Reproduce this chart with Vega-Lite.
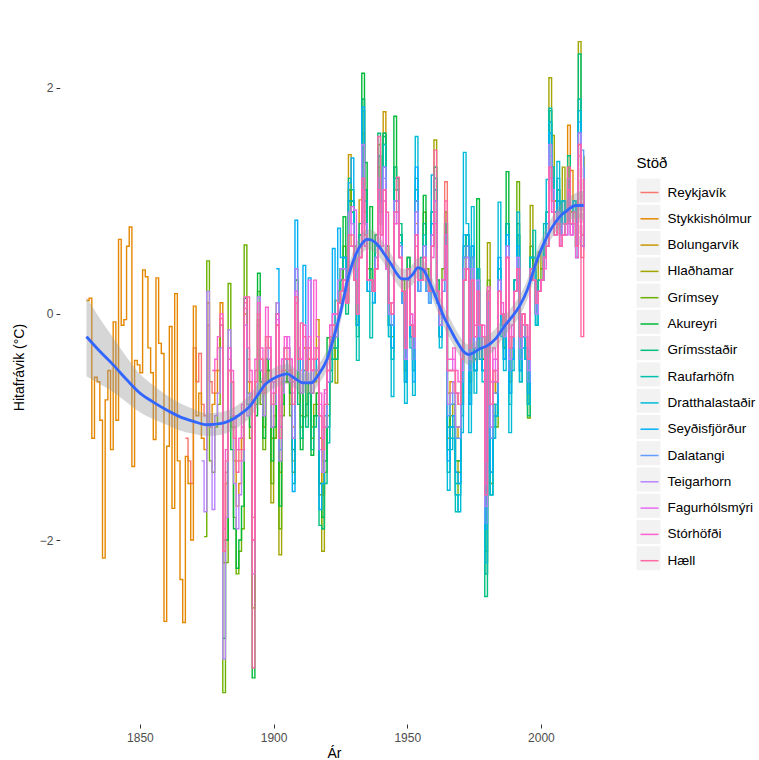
{
"$schema":"https://vega.github.io/schema/vega-lite/v6.json",
"width":548,"height":714,
"autosize":{"type":"none"},
"padding":{"left":60,"top":10,"right":151,"bottom":36},
"config":{"view":{"fill":"#EBEBEB","stroke":null},"font":"Liberation Sans",
 "axis":{"grid":false,"domain":false,"tickColor":"#333333","tickSize":4,"tickWidth":1,"labelFontSize":12,"labelColor":"#4D4D4D","titleFontSize":14,"titleFontWeight":"normal","titleColor":"#000000"},
 "axisX":{"labelPadding":4,"titlePadding":3},
 "axisY":{"labelPadding":3,"titlePadding":13}},
"datasets":{
"names":[{"k":"a","Stöð":"Reykjavík"},{"k":"b","Stöð":"Stykkishólmur"},{"k":"c","Stöð":"Bolungarvík"},{"k":"d","Stöð":"Hlaðhamar"},{"k":"e","Stöð":"Grímsey"},{"k":"f","Stöð":"Akureyri"},{"k":"g","Stöð":"Grímsstaðir"},{"k":"h","Stöð":"Raufarhöfn"},{"k":"i","Stöð":"Dratthalastaðir"},{"k":"j","Stöð":"Seyðisfjörður"},{"k":"k","Stöð":"Dalatangi"},{"k":"l","Stöð":"Teigarhorn"},{"k":"m","Stöð":"Fagurhólsmýri"},{"k":"n","Stöð":"Stórhöfði"},{"k":"o","Stöð":"Hæll"}],
"fit":[
{"t":1830,"f":-0.2,"lo":-0.55,"hi":0.15},{"t":1835,"f":-0.33,"lo":-0.62,"hi":-0.04},{"t":1840,"f":-0.45,"lo":-0.69,"hi":-0.21},{"t":1845,"f":-0.58,"lo":-0.78,"hi":-0.38},{"t":1850,"f":-0.7,"lo":-0.87,"hi":-0.53},{"t":1855,"f":-0.78,"lo":-0.93,"hi":-0.63},{"t":1860,"f":-0.85,"lo":-0.98,"hi":-0.72},{"t":1865,"f":-0.91,"lo":-1.03,"hi":-0.79},{"t":1870,"f":-0.95,"lo":-1.06,"hi":-0.84},{"t":1875,"f":-0.98,"lo":-1.08,"hi":-0.88},{"t":1880,"f":-0.97,"lo":-1.07,"hi":-0.87},{"t":1884,"f":-0.94,"lo":-1.04,"hi":-0.84},{"t":1888,"f":-0.88,"lo":-0.98,"hi":-0.78},{"t":1891,"f":-0.82,"lo":-0.92,"hi":-0.72},{"t":1894,"f":-0.72,"lo":-0.82,"hi":-0.62},{"t":1897,"f":-0.62,"lo":-0.72,"hi":-0.52},{"t":1900,"f":-0.57,"lo":-0.66,"hi":-0.48},{"t":1903,"f":-0.54,"lo":-0.63,"hi":-0.45},{"t":1905,"f":-0.53,"lo":-0.62,"hi":-0.44},{"t":1908,"f":-0.57,"lo":-0.66,"hi":-0.48},{"t":1911,"f":-0.61,"lo":-0.7,"hi":-0.52},{"t":1914,"f":-0.61,"lo":-0.7,"hi":-0.52},{"t":1917,"f":-0.53,"lo":-0.62,"hi":-0.44},{"t":1920,"f":-0.4,"lo":-0.49,"hi":-0.31},{"t":1922,"f":-0.25,"lo":-0.34,"hi":-0.16},{"t":1925,"f":0.01,"lo":-0.08,"hi":0.1},{"t":1928,"f":0.33,"lo":0.24,"hi":0.42},{"t":1931,"f":0.54,"lo":0.45,"hi":0.63},{"t":1933,"f":0.62,"lo":0.53,"hi":0.71},{"t":1935,"f":0.66,"lo":0.57,"hi":0.75},{"t":1937,"f":0.65,"lo":0.56,"hi":0.74},{"t":1939,"f":0.61,"lo":0.52,"hi":0.7},{"t":1942,"f":0.51,"lo":0.42,"hi":0.6},{"t":1944,"f":0.44,"lo":0.35,"hi":0.53},{"t":1946,"f":0.36,"lo":0.27,"hi":0.45},{"t":1948,"f":0.31,"lo":0.22,"hi":0.4},{"t":1950,"f":0.31,"lo":0.22,"hi":0.4},{"t":1952,"f":0.35,"lo":0.26,"hi":0.44},{"t":1954,"f":0.41,"lo":0.32,"hi":0.5},{"t":1956,"f":0.39,"lo":0.3,"hi":0.48},{"t":1958,"f":0.3,"lo":0.21,"hi":0.39},{"t":1961,"f":0.13,"lo":0.04,"hi":0.22},{"t":1964,"f":-0.04,"lo":-0.13,"hi":0.05},{"t":1966,"f":-0.13,"lo":-0.22,"hi":-0.04},{"t":1969,"f":-0.26,"lo":-0.35,"hi":-0.17},{"t":1971,"f":-0.33,"lo":-0.42,"hi":-0.24},{"t":1973,"f":-0.36,"lo":-0.45,"hi":-0.27},{"t":1975,"f":-0.34,"lo":-0.43,"hi":-0.25},{"t":1977,"f":-0.31,"lo":-0.4,"hi":-0.22},{"t":1980,"f":-0.28,"lo":-0.37,"hi":-0.19},{"t":1983,"f":-0.22,"lo":-0.31,"hi":-0.13},{"t":1986,"f":-0.12,"lo":-0.21,"hi":-0.03},{"t":1989,"f":-0.03,"lo":-0.12,"hi":0.06},{"t":1992,"f":0.07,"lo":-0.02,"hi":0.16},{"t":1995,"f":0.22,"lo":0.13,"hi":0.31},{"t":1998,"f":0.44,"lo":0.35,"hi":0.53},{"t":2001,"f":0.62,"lo":0.53,"hi":0.71},{"t":2004,"f":0.76,"lo":0.67,"hi":0.85},{"t":2007,"f":0.86,"lo":0.76,"hi":0.96},{"t":2010,"f":0.92,"lo":0.82,"hi":1.02},{"t":2013,"f":0.96,"lo":0.85,"hi":1.07},{"t":2016,"f":0.96,"lo":0.83,"hi":1.09}],
"temp":[
{"t":1830,"b":0.12},{"t":1831,"b":0.14},{"t":1832,"b":-1.1},{"t":1833,"b":-0.56},{"t":1834,"b":-0.6},{"t":1835,"b":-0.94},{"t":1836,"b":-2.16},{"t":1837,"b":-0.76},{"t":1838,"b":-0.5},{"t":1839,"b":-1.2},{"t":1840,"b":-0.07},{"t":1841,"b":-0.94},{"t":1842,"b":0.66},{"t":1843,"b":-0.1},{"t":1844,"b":-0.05},{"t":1845,"b":0.6},{"t":1846,"b":0.77},{"t":1847,"b":-1.35},{"t":1848,"b":-0.41},{"t":1849,"b":-0.45},{"t":1850,"b":-0.52},{"t":1851,"b":0.39},{"t":1852,"b":0.33},{"t":1853,"b":-0.3},{"t":1854,"b":-0.52},{"t":1855,"b":-1.11},{"t":1856,"b":0.32},{"t":1857,"b":-0.26},{"t":1858,"b":-0.35},{"t":1859,"b":-2.72},{"t":1860,"b":-1.17},{"t":1861,"b":-0.11},{"t":1862,"b":-1.72},{"t":1863,"b":0.18},{"t":1864,"b":-1.3},{"t":1865,"b":-2.35},{"t":1866,"b":-2.73},
{"t":1867,"a":-1.1,"b":-1.26},{"t":1868,"a":-1.3,"b":-1.5},{"t":1869,"a":-1.5,"b":-2.0},{"t":1870,"a":-0.3,"b":0.07},{"t":1871,"a":-0.6,"b":-0.9},{"t":1872,"a":-0.35,"b":-0.7},
{"t":1873,"a":-0.8,"b":-1.1,"l":-1.3},{"t":1874,"a":-0.9,"b":-1.2,"e":-1.97,"l":-1.75},{"t":1875,"a":-0.1,"b":0.1,"e":0.47,"l":0.2},{"t":1876,"a":-0.6,"b":-1.0,"e":-1.3,"l":-1.0},
{"t":1877,"a":-0.7,"b":-0.8,"e":-1.4,"l":-1.73,"n":-0.5},{"t":1878,"a":-0.5,"b":-0.7,"e":-1.0,"l":-0.9,"n":-0.4},{"t":1879,"a":-0.3,"b":-0.5,"e":-0.8,"l":-0.7,"n":-0.2},
{"t":1880,"a":-0.04,"b":0.1,"e":-0.1,"l":-0.3,"n":0.0,"o":-0.1},
{"t":1881,"a":-2.0,"b":-2.2,"e":-3.35,"f":-2.87,"l":-3.05,"n":-1.9,"o":-2.1},
{"t":1882,"a":-1.4,"b":-1.5,"e":-2.2,"f":-2.0,"l":-1.8,"n":-1.2,"o":-1.3},
{"t":1883,"a":-0.4,"b":-0.5,"e":0.27,"f":-0.3,"l":-0.14,"n":-0.3,"o":-0.5},
{"t":1884,"a":-0.6,"b":-0.9,"e":-1.0,"f":-1.2,"l":-0.9,"n":-0.5,"o":-0.6},
{"t":1885,"a":-1.0,"b":-1.3,"e":-1.8,"f":-1.9,"l":-1.5,"n":-0.9,"o":-1.1},
{"t":1886,"a":-1.3,"b":-1.7,"e":-2.3,"f":-2.25,"l":-1.9,"n":-1.2,"o":-1.4},
{"t":1887,"a":-1.2,"b":-1.5,"e":-2.1,"f":-2.0,"l":-1.6,"n":-1.1,"o":-1.3},
{"t":1888,"a":-1.0,"b":-1.1,"e":-1.9,"f":-1.7,"l":-1.3,"n":-0.8,"o":-1.2},
{"t":1889,"a":0.1,"b":0.0,"e":0.61,"f":0.14,"l":-0.1,"n":0.15,"o":0.05},
{"t":1890,"a":-0.4,"b":-0.6,"e":-0.7,"f":-0.8,"l":-0.9,"n":-0.3,"o":0.15},
{"t":1891,"a":-0.6,"b":-0.8,"e":-1.1,"f":-1.0,"l":-0.7,"n":-0.5,"o":-0.6},
{"t":1892,"a":-1.8,"b":-2.0,"e":-2.6,"f":-3.22,"l":-2.3,"n":-2.0,"o":-3.13},
{"t":1893,"a":-0.5,"b":-0.6,"e":-0.8,"f":-0.9,"l":-0.7,"n":-0.4,"o":-0.6},
{"t":1894,"a":-0.1,"b":-0.05,"e":0.2,"f":0.36,"l":0.15,"n":0.1,"o":0.0},
{"t":1895,"a":-0.4,"b":-0.5,"d":-0.7,"e":-0.8,"f":-0.6,"l":-0.5,"n":-0.3,"o":-0.4},
{"t":1896,"a":-0.7,"b":-0.9,"d":-1.0,"e":-1.2,"f":-1.1,"l":-0.9,"n":-0.6,"o":-0.7},
{"t":1897,"a":-0.2,"b":-0.3,"d":-0.4,"e":-0.5,"f":-0.4,"l":-0.3,"n":0.06,"o":-0.2},
{"t":1898,"a":-0.3,"b":-0.4,"c":-0.5,"d":-0.6,"e":-0.6,"f":-0.5,"l":-0.4,"m":-0.2,"n":-0.2,"o":-0.3},
{"t":1899,"a":-0.8,"b":-1.0,"c":-1.1,"d":-1.67,"e":-1.5,"f":-1.3,"l":-1.0,"m":-0.7,"n":-0.6,"o":-0.8},
{"t":1900,"a":-0.7,"b":-0.8,"c":-0.9,"d":-1.1,"e":-1.1,"f":-1.0,"l":-0.8,"m":-0.6,"n":-0.6,"o":-0.7},
{"t":1901,"a":-0.1,"b":0.0,"c":-0.1,"d":-0.1,"e":0.1,"f":0.0,"j":0.4,"l":0.1,"m":-0.05,"n":0.0,"o":-0.1},
{"t":1902,"a":-1.0,"b":-1.3,"c":-1.4,"d":-2.13,"e":-1.9,"f":-1.7,"j":-1.2,"l":-1.3,"m":-1.0,"n":-0.9,"o":-1.1},
{"t":1903,"a":-0.5,"b":-0.6,"c":-0.6,"d":-0.8,"e":-0.9,"f":-0.8,"j":-0.6,"l":-0.7,"m":-0.4,"n":-0.4,"o":-0.5},
{"t":1904,"a":-0.3,"b":-0.4,"c":-0.4,"d":-0.5,"e":-0.6,"f":-0.4,"j":-0.3,"l":-0.4,"m":-0.3,"n":-0.2,"o":-0.3},
{"t":1905,"a":-0.3,"b":-0.5,"c":-0.4,"d":-0.6,"e":-0.5,"f":-0.6,"j":-0.3,"l":-0.5,"m":-0.2,"n":-0.3,"o":-0.4},
{"t":1906,"a":-0.5,"b":-0.7,"c":-0.6,"d":-0.8,"e":-0.9,"f":-0.7,"j":-0.5,"l":-0.6,"m":-0.4,"n":-0.4,"o":-0.5},
{"t":1907,"a":-0.8,"b":-1.0,"c":-1.1,"d":-1.3,"e":-1.4,"f":-1.2,"g":-1.5,"j":-1.57,"l":-1.1,"m":-0.7,"n":-0.6,"o":-0.8},
{"t":1908,"a":0.1,"b":0.2,"c":0.2,"d":0.3,"e":0.3,"f":0.3,"g":0.4,"j":0.83,"l":0.4,"m":0.2,"n":0.1,"o":0.15},
{"t":1909,"a":-0.4,"b":-0.5,"c":-0.5,"d":-0.6,"e":-0.7,"f":-0.6,"g":-0.8,"j":-0.4,"l":-0.5,"m":-0.3,"n":-0.3,"o":-0.4},
{"t":1910,"a":-0.5,"b":-0.7,"c":-0.7,"d":-0.9,"e":-1.0,"f":-1.2,"g":-1.1,"j":-0.6,"l":-0.7,"m":-0.4,"n":-0.4,"o":-0.08},
{"t":1911,"a":-0.2,"b":-0.3,"c":-0.3,"d":-0.5,"e":-0.6,"f":-0.91,"g":-0.5,"j":0.43,"l":-0.2,"m":-0.1,"n":-0.1,"o":-0.2},
{"t":1912,"a":-0.5,"b":-0.6,"c":-0.6,"d":-0.8,"e":-0.9,"f":-0.8,"g":-1.0,"j":-0.5,"l":-0.6,"m":-0.4,"n":-0.3,"o":-0.5},
{"t":1913,"a":-0.3,"b":-0.4,"c":-0.4,"d":-0.6,"e":-0.7,"f":-0.6,"g":-0.7,"j":0.32,"l":-0.3,"m":0.3,"n":-0.2,"o":-0.3},
{"t":1914,"a":-0.5,"b":-0.7,"c":-0.7,"d":-1.0,"e":-1.1,"f":-1.25,"g":-1.2,"j":-0.6,"l":-0.7,"m":-0.5,"n":-0.4,"o":-0.5},
{"t":1915,"a":-0.4,"b":-0.6,"c":-0.6,"d":-0.8,"e":-0.9,"f":-0.9,"g":-1.0,"j":-0.5,"l":-0.5,"m":-0.3,"n":0.3,"o":-0.4},
{"t":1916,"a":-0.3,"b":-0.5,"c":-0.05,"d":-0.7,"e":-0.8,"f":-0.7,"g":-0.9,"j":-0.4,"l":-0.5,"m":-0.3,"n":-0.2,"o":-0.3},
{"t":1917,"a":-0.9,"b":-1.1,"c":-1.1,"d":-1.5,"e":-1.6,"f":-1.5,"g":-1.87,"j":-1.73,"l":-1.2,"m":-0.8,"n":-0.7,"o":-0.9},
{"t":1918,"a":-1.3,"b":-1.6,"c":-1.6,"d":-2.1,"e":-1.9,"f":-1.8,"g":-1.9,"j":-1.5,"l":-1.4,"m":-1.1,"n":-1.0,"o":-1.2},
{"t":1919,"a":-0.8,"b":-1.0,"c":-1.0,"d":-1.3,"e":-1.4,"f":-1.3,"g":-1.5,"j":-0.9,"l":-1.0,"m":-0.7,"n":-0.67,"o":-0.8},
{"t":1920,"a":-0.5,"b":-0.6,"c":-0.6,"d":-0.8,"e":-0.9,"f":-0.21,"g":-1.0,"h":-1.14,"j":-0.6,"l":-0.6,"m":-0.4,"n":-0.4,"o":-0.5},
{"t":1921,"a":-0.2,"b":-0.3,"c":-0.3,"d":-0.4,"e":-0.5,"f":-0.4,"g":-0.6,"h":-0.5,"j":-0.2,"l":-0.3,"m":-0.1,"n":-0.1,"o":-0.2},
{"t":1922,"a":-0.2,"b":-0.2,"c":-0.2,"d":-0.3,"e":-0.3,"f":-0.2,"g":-0.4,"h":-0.3,"j":0.58,"l":-0.1,"m":0.0,"n":0.0,"o":-0.1},
{"t":1923,"a":-0.1,"b":-0.2,"c":0.12,"d":-0.61,"e":-0.4,"f":-0.3,"g":-0.4,"h":-0.3,"j":-0.1,"l":-0.2,"m":0.0,"n":0.0,"o":-0.1},
{"t":1924,"a":0.1,"b":0.1,"c":0.1,"d":0.1,"e":0.2,"f":0.1,"g":0.1,"h":0.2,"j":0.76,"l":0.3,"m":0.1,"n":0.1,"o":0.1},
{"t":1925,"a":0.2,"b":0.3,"c":0.3,"d":0.4,"e":0.4,"f":0.3,"g":0.4,"h":0.4,"j":0.5,"l":0.4,"m":0.2,"n":0.2,"o":0.2},
{"t":1926,"a":0.3,"b":0.4,"c":0.4,"d":0.5,"e":0.6,"f":0.86,"g":0.5,"h":0.5,"j":0.5,"l":0.4,"m":0.3,"n":0.3,"o":0.3},
{"t":1927,"a":0.1,"b":0.1,"c":0.1,"d":0.1,"e":0.2,"f":0.1,"g":0.0,"h":0.2,"j":0.2,"l":0.1,"m":0.1,"n":0.1,"o":0.1},
{"t":1928,"a":0.7,"b":0.9,"c":1.41,"d":1.1,"e":1.1,"f":1.0,"g":1.2,"h":1.0,"j":1.16,"l":0.9,"m":0.7,"n":0.6,"o":0.7},
{"t":1929,"a":0.6,"b":0.8,"c":0.9,"d":1.0,"e":1.0,"f":0.9,"g":1.1,"h":1.0,"j":1.38,"l":0.8,"m":0.95,"n":0.6,"o":0.7},
{"t":1930,"a":0.3,"b":0.4,"c":0.4,"d":0.5,"e":0.6,"f":0.5,"g":0.5,"h":0.5,"j":0.4,"l":0.4,"m":0.92,"n":0.3,"o":0.3},
{"t":1931,"a":0.0,"b":0.0,"c":0.0,"d":-0.1,"e":-0.1,"f":-0.1,"g":-0.2,"h":-0.41,"j":-0.1,"l":0.0,"m":0.1,"n":0.1,"o":0.0},
{"t":1932,"a":0.5,"b":0.6,"c":1.01,"d":0.7,"e":0.7,"f":0.7,"g":0.8,"h":0.7,"j":0.6,"l":0.6,"m":0.5,"n":0.5,"o":0.5},
{"t":1933,"a":1.2,"b":1.5,"c":1.6,"d":1.8,"e":1.9,"f":2.13,"g":1.9,"h":1.8,"j":1.83,"l":1.5,"m":1.2,"n":1.1,"o":1.2},
{"t":1934,"a":0.7,"b":0.8,"c":0.9,"d":1.0,"e":1.1,"f":1.34,"g":1.1,"h":1.0,"j":0.8,"l":0.8,"m":0.6,"n":0.6,"o":0.7},
{"t":1935,"a":0.3,"b":0.3,"c":0.3,"d":0.3,"e":0.4,"f":0.3,"g":0.3,"h":0.2,"j":0.2,"l":0.3,"m":0.3,"n":0.3,"o":0.3},
{"t":1936,"a":0.3,"b":0.3,"c":0.4,"d":0.3,"e":0.4,"f":0.95,"g":0.4,"h":-0.21,"j":0.3,"l":0.3,"m":0.3,"n":0.3,"o":0.3},
{"t":1937,"a":0.2,"b":0.2,"c":0.2,"d":0.2,"e":0.3,"f":0.2,"g":0.2,"h":0.1,"j":0.1,"l":0.2,"m":0.2,"n":0.2,"o":0.2},
{"t":1938,"a":0.4,"b":0.5,"c":0.6,"d":0.6,"e":0.7,"f":0.6,"g":0.7,"h":0.6,"j":0.5,"l":0.5,"m":0.4,"n":0.4,"o":0.4},
{"t":1939,"a":1.0,"b":1.2,"c":1.3,"d":1.4,"e":1.5,"f":1.4,"g":1.6,"h":1.4,"j":1.2,"k":1.1,"l":1.2,"m":1.0,"n":1.1,"o":1.57},
{"t":1940,"a":0.7,"b":0.8,"c":0.9,"d":1.0,"e":1.0,"f":0.9,"g":1.0,"h":0.9,"i":0.8,"j":0.8,"k":0.7,"l":0.8,"m":0.7,"n":0.6,"o":0.7},
{"t":1941,"a":1.1,"b":1.3,"c":1.79,"d":1.5,"e":1.6,"f":1.57,"g":1.6,"h":1.5,"i":1.3,"j":1.3,"k":1.2,"l":1.3,"m":1.1,"n":1.0,"o":1.1},
{"t":1942,"a":0.5,"b":0.5,"c":0.5,"d":0.6,"e":0.6,"f":0.5,"g":0.6,"h":0.5,"i":0.4,"j":0.4,"k":0.4,"l":0.5,"m":0.4,"n":0.4,"o":0.9},
{"t":1943,"a":0.1,"b":0.0,"c":0.0,"d":-0.1,"e":-0.1,"f":-0.1,"g":-0.2,"h":-0.1,"i":-0.2,"j":-0.1,"k":0.0,"l":0.0,"m":0.1,"n":0.1,"o":0.1},
{"t":1944,"a":0.0,"b":0.0,"c":0.0,"d":-0.1,"e":-0.2,"f":-0.1,"g":-0.3,"h":-0.4,"i":-0.73,"j":-0.3,"k":-0.1,"l":0.0,"m":0.1,"n":0.1,"o":0.0},
{"t":1945,"a":0.8,"b":1.0,"c":1.1,"d":1.2,"e":1.3,"f":1.75,"g":1.3,"h":1.2,"i":1.0,"j":1.0,"k":0.9,"l":1.0,"m":0.8,"n":0.8,"o":0.9},
{"t":1946,"a":0.9,"b":1.0,"c":1.1,"d":1.2,"e":1.2,"f":1.1,"g":1.2,"h":1.1,"i":1.0,"j":1.0,"k":0.9,"l":1.0,"m":0.9,"n":0.8,"o":1.21},
{"t":1947,"a":0.5,"b":0.6,"c":0.6,"d":0.7,"e":0.7,"f":0.7,"g":0.8,"h":0.7,"i":0.63,"j":0.6,"k":0.5,"l":0.6,"m":0.5,"n":0.5,"o":0.5},
{"t":1948,"a":0.2,"b":0.2,"c":0.2,"d":0.2,"e":0.3,"f":0.2,"g":0.2,"h":0.1,"i":0.1,"j":0.1,"k":0.1,"l":0.2,"m":0.2,"n":0.2,"o":0.2},
{"t":1949,"a":-0.3,"b":-0.4,"c":-0.4,"d":-0.5,"e":-0.6,"f":-0.5,"g":-0.6,"h":-0.6,"i":-0.79,"j":-0.6,"k":-0.4,"l":-0.4,"m":-0.3,"n":-0.2,"o":-0.3},
{"t":1950,"a":0.4,"b":0.4,"c":0.4,"d":0.5,"e":0.5,"f":0.4,"g":0.5,"h":0.4,"i":0.3,"j":0.3,"k":0.3,"l":0.4,"m":0.4,"n":0.4,"o":0.4},
{"t":1951,"a":-0.1,"b":-0.1,"c":-0.1,"d":-0.2,"e":-0.2,"f":-0.1,"g":-0.2,"h":-0.2,"i":-0.3,"j":-0.2,"k":-0.1,"l":-0.1,"m":0.0,"n":0.0,"o":-0.1},
{"t":1952,"a":-0.2,"b":-0.3,"c":-0.3,"d":-0.4,"e":-0.4,"f":-0.3,"g":-0.5,"h":-0.5,"i":-0.72,"j":-0.6,"k":-0.4,"l":-0.3,"m":-0.2,"n":-0.1,"o":-0.2},
{"t":1953,"a":0.7,"b":0.8,"c":0.9,"d":1.0,"e":1.0,"f":1.0,"g":1.1,"h":1.2,"i":1.57,"j":1.3,"k":1.0,"l":0.9,"m":0.7,"n":0.6,"o":0.7},
{"t":1954,"a":0.3,"b":0.3,"c":0.3,"d":0.4,"e":0.4,"f":0.3,"g":0.4,"h":0.3,"i":0.2,"j":0.2,"k":0.2,"l":0.3,"m":0.3,"n":0.3,"o":0.3},
{"t":1955,"a":0.4,"b":0.3,"c":0.3,"d":0.4,"e":0.4,"f":0.4,"g":0.5,"h":0.4,"i":0.4,"j":0.4,"k":0.3,"l":0.3,"m":0.3,"n":0.3,"o":0.3},
{"t":1956,"a":0.5,"b":0.6,"c":0.6,"d":0.8,"e":0.9,"f":1.05,"g":0.8,"h":0.7,"i":0.6,"j":0.6,"k":0.5,"l":0.6,"m":0.5,"n":0.4,"o":0.5},
{"t":1957,"a":0.3,"b":0.3,"c":0.3,"d":0.4,"e":0.4,"f":0.3,"g":0.3,"h":0.3,"i":0.2,"j":0.2,"k":0.2,"l":0.3,"m":0.3,"n":0.3,"o":0.3},
{"t":1958,"a":0.2,"b":0.2,"c":0.2,"d":0.2,"e":0.3,"f":0.2,"g":0.2,"h":0.2,"i":0.1,"j":0.1,"k":0.1,"l":0.2,"m":0.2,"n":0.2,"o":0.2},
{"t":1959,"a":0.6,"b":0.7,"c":0.8,"d":0.9,"e":0.9,"f":0.8,"g":0.9,"h":0.9,"i":1.23,"j":0.8,"k":0.7,"l":0.7,"m":0.6,"n":0.5,"o":0.6},
{"t":1960,"a":0.9,"b":1.0,"c":1.1,"d":1.54,"e":1.3,"f":1.2,"g":1.3,"h":1.2,"i":1.1,"j":1.0,"k":1.0,"l":1.0,"m":0.9,"n":0.8,"o":1.45},
{"t":1961,"a":0.2,"b":0.2,"c":0.2,"d":0.3,"e":0.3,"f":0.2,"g":0.3,"h":0.2,"i":0.1,"j":0.1,"k":0.1,"l":0.2,"m":0.2,"n":0.2,"o":0.2},
{"t":1962,"a":0.0,"b":-0.1,"c":-0.1,"d":-0.2,"e":-0.2,"f":-0.1,"g":-0.2,"h":-0.2,"i":-0.3,"j":-0.2,"k":-0.1,"l":-0.1,"m":0.0,"n":0.0,"o":0.0},
{"t":1963,"a":0.3,"b":0.3,"c":0.3,"d":0.3,"e":0.4,"f":0.3,"g":0.3,"h":0.3,"i":0.2,"j":0.3,"k":0.2,"l":0.3,"m":0.3,"n":0.3,"o":0.3},
{"t":1964,"a":1.17,"b":0.8,"c":0.8,"d":0.9,"e":0.9,"f":0.8,"g":0.8,"h":0.8,"i":0.7,"j":0.7,"k":0.6,"l":0.7,"m":0.6,"n":0.6,"o":1.0},
{"t":1965,"a":-0.5,"b":-0.7,"c":-0.8,"d":-1.1,"e":-1.2,"f":-1.0,"g":-1.2,"h":-1.4,"i":-1.56,"j":-1.3,"k":-0.9,"l":-0.8,"m":-0.5,"n":-0.4,"o":-0.5},
{"t":1966,"a":-0.5,"b":-0.6,"c":-0.7,"d":-0.9,"e":-1.0,"f":-0.8,"g":-1.0,"h":-1.1,"i":-1.2,"j":-1.0,"k":-0.8,"l":-0.7,"m":-0.5,"n":-0.4,"o":-0.5},
{"t":1967,"a":-0.5,"b":-0.6,"c":-0.6,"d":-0.8,"e":-0.9,"f":-0.8,"g":-1.0,"h":-1.0,"i":-1.1,"j":-0.9,"k":-0.7,"l":-0.6,"m":-0.4,"n":-0.3,"o":-0.5},
{"t":1968,"a":-0.7,"b":-1.0,"c":-1.1,"d":-1.4,"e":-1.6,"f":-1.3,"g":-1.5,"h":-1.75,"i":-1.6,"j":-1.4,"k":-1.1,"l":-1.0,"m":-0.7,"n":-0.5,"o":-0.7},
{"t":1969,"a":-0.8,"b":-1.0,"c":-1.0,"d":-1.3,"e":-1.4,"f":-1.3,"g":-1.5,"h":-1.6,"i":-1.75,"j":-1.5,"k":-1.1,"l":-1.0,"m":-0.7,"n":-0.6,"o":-0.8},
{"t":1970,"a":-0.4,"b":-0.5,"c":-0.5,"d":-0.7,"e":-0.8,"f":-0.6,"g":-0.8,"h":-0.9,"i":-1.05,"j":-0.8,"k":-0.6,"l":-0.5,"m":-0.4,"n":-0.3,"o":-0.4},
{"t":1971,"a":0.3,"b":0.4,"c":0.4,"d":0.5,"e":0.5,"f":0.5,"g":0.6,"h":0.6,"i":1.43,"j":0.7,"k":0.5,"l":0.4,"m":0.3,"n":0.3,"o":0.3},
{"t":1972,"a":0.4,"b":0.5,"c":0.5,"d":0.6,"e":0.7,"f":0.6,"g":0.7,"h":0.7,"i":0.8,"j":0.7,"k":0.6,"l":0.5,"m":0.4,"n":0.4,"o":0.4},
{"t":1973,"a":-0.3,"b":-0.4,"c":-0.4,"d":-0.6,"e":-0.7,"f":-0.6,"g":-0.8,"h":-0.8,"i":-1.05,"j":-0.8,"k":-0.5,"l":-0.4,"m":-0.3,"n":-0.2,"o":-0.3},
{"t":1974,"a":0.3,"b":0.4,"c":0.4,"d":0.5,"e":0.5,"f":0.5,"g":0.6,"h":0.6,"i":0.95,"j":0.6,"k":0.5,"l":0.4,"m":0.3,"n":0.3,"o":0.3},
{"t":1975,"a":-0.2,"b":-0.3,"c":-0.3,"d":-0.4,"e":-0.5,"f":-0.4,"g":-0.5,"h":-0.5,"i":-0.7,"j":-0.5,"k":-0.3,"l":-0.3,"m":-0.2,"n":-0.1,"o":-0.2},
{"t":1976,"a":0.2,"b":0.3,"c":0.3,"d":0.4,"e":0.4,"f":1.02,"g":0.4,"h":0.4,"i":0.4,"j":0.3,"k":0.3,"l":0.3,"m":0.2,"n":0.2,"o":0.2},
{"t":1977,"a":-0.1,"b":-0.2,"c":-0.2,"d":-0.3,"e":-0.3,"f":-0.2,"g":-0.3,"h":-0.3,"i":-0.4,"j":-0.3,"k":-0.2,"l":-0.2,"m":-0.1,"n":-0.1,"o":-0.1},
{"t":1978,"a":-0.2,"b":-0.3,"c":-0.3,"d":-0.4,"e":-0.4,"f":-0.4,"g":-0.5,"h":-0.5,"i":-0.6,"j":-0.5,"k":-0.3,"l":-0.3,"m":-0.2,"n":-0.1,"o":-0.2},
{"t":1979,"a":-1.3,"b":-1.7,"c":-1.8,"d":-2.2,"e":-2.3,"f":-2.1,"g":-2.5,"h":-2.3,"i":-2.2,"j":-1.9,"k":-1.85,"l":-1.7,"m":-1.5,"n":-1.3,"o":-1.6},
{"t":1980,"a":0.2,"b":0.2,"c":0.2,"d":0.63,"e":0.3,"f":0.2,"g":0.2,"h":0.2,"i":0.1,"j":0.1,"k":0.1,"l":0.2,"m":0.2,"n":0.24,"o":0.2},
{"t":1981,"a":-0.8,"b":-1.0,"c":-1.1,"d":-1.4,"e":-1.5,"f":-1.4,"g":-1.6,"h":-1.6,"i":-1.6,"j":-1.4,"k":-1.1,"l":-1.0,"m":-0.8,"n":-0.6,"o":-0.8},
{"t":1982,"a":-0.5,"b":-0.6,"c":-0.6,"d":-0.8,"e":-0.9,"f":-0.8,"g":-1.0,"h":-1.1,"i":-1.1,"j":-0.9,"k":-0.7,"l":-0.6,"m":-0.4,"n":-0.3,"o":-0.5},
{"t":1983,"a":-0.6,"b":-0.7,"c":-0.7,"d":-0.9,"e":-1.0,"f":-0.9,"g":-0.9,"h":-0.9,"i":-0.9,"j":-0.8,"k":-0.7,"l":-0.6,"m":-0.5,"n":-0.4,"o":-0.6},
{"t":1984,"a":0.2,"b":0.2,"c":0.2,"d":0.3,"e":0.3,"f":0.3,"g":0.4,"h":0.4,"i":0.99,"j":0.5,"k":0.3,"l":0.3,"m":0.2,"n":0.2,"o":0.2},
{"t":1985,"a":0.0,"b":0.0,"c":0.0,"d":0.0,"e":0.0,"f":0.0,"g":-0.1,"h":-0.1,"i":-0.2,"j":-0.1,"k":0.0,"l":0.0,"m":0.0,"n":0.1,"o":0.0},
{"t":1986,"a":-0.1,"b":-0.2,"c":-0.2,"d":-0.3,"e":-0.3,"f":-0.3,"g":-0.4,"h":-0.4,"i":-0.5,"j":-0.4,"k":-0.2,"l":-0.2,"m":-0.1,"n":-0.1,"o":-0.1},
{"t":1987,"a":0.5,"b":0.6,"c":0.6,"d":0.8,"e":0.8,"f":1.26,"g":0.8,"h":0.8,"i":0.7,"j":0.7,"k":0.6,"l":0.6,"m":0.5,"n":0.5,"o":0.5},
{"t":1988,"a":-0.3,"b":-0.4,"c":-0.4,"d":-0.6,"e":-0.6,"f":-0.5,"g":-0.7,"h":-0.8,"i":-1.05,"j":-0.7,"k":-0.5,"l":-0.4,"m":-0.3,"n":-0.2,"o":-0.3},
{"t":1989,"a":-0.2,"b":-0.2,"c":-0.2,"d":-0.3,"e":-0.3,"f":-0.3,"g":-0.4,"h":-0.4,"i":-0.5,"j":-0.4,"k":-0.3,"l":-0.2,"m":-0.1,"n":-0.1,"o":-0.2},
{"t":1990,"a":0.2,"b":0.2,"c":0.2,"d":0.3,"e":0.3,"f":0.2,"g":0.3,"h":0.3,"i":0.3,"j":0.2,"k":0.2,"l":0.2,"m":0.2,"n":0.2,"o":0.2},
{"t":1991,"a":0.4,"b":0.5,"c":0.5,"d":0.7,"e":1.17,"f":0.8,"g":0.7,"h":0.7,"i":0.9,"j":0.6,"k":0.5,"l":0.5,"m":0.4,"n":0.4,"o":0.4},
{"t":1992,"a":-0.2,"b":-0.3,"c":-0.3,"d":-0.4,"e":-0.5,"f":-0.4,"g":-0.6,"h":-0.5,"i":-0.6,"j":-0.5,"k":-0.4,"l":-0.3,"m":-0.2,"n":-0.2,"o":-0.2},
{"t":1993,"a":0.0,"b":-0.1,"c":-0.1,"d":-0.2,"e":-0.2,"f":-0.1,"g":-0.2,"h":-0.3,"i":-0.3,"j":-0.2,"k":-0.2,"l":-0.1,"m":0.0,"n":0.0,"o":0.0},
{"t":1994,"a":-0.1,"b":-0.2,"c":-0.2,"d":-0.3,"e":-0.4,"f":-0.3,"g":-0.4,"h":-0.4,"i":-0.4,"j":-0.3,"k":-0.2,"l":-0.2,"m":-0.1,"n":-0.1,"o":-0.1},
{"t":1995,"a":-0.4,"b":-0.6,"c":-0.6,"d":-0.8,"e":-0.92,"f":-0.8,"g":-0.9,"h":-0.8,"i":-0.8,"j":-0.7,"k":-0.6,"l":-0.5,"m":-0.4,"n":-0.3,"o":-0.4},
{"t":1996,"a":0.4,"b":0.4,"c":0.5,"d":0.96,"e":0.6,"f":0.5,"g":0.5,"h":0.5,"i":0.5,"j":0.4,"k":0.4,"l":0.4,"m":0.3,"n":0.3,"o":0.4},
{"t":1997,"a":0.3,"b":0.3,"c":0.3,"d":0.4,"e":0.4,"f":0.4,"g":0.5,"h":0.74,"i":0.5,"j":0.4,"k":0.3,"l":0.3,"m":0.3,"n":0.3,"o":0.3},
{"t":1998,"a":0.1,"b":0.0,"c":0.0,"d":0.0,"e":0.0,"f":0.0,"g":-0.1,"h":-0.1,"i":-0.1,"j":0.0,"k":0.0,"l":0.0,"m":0.1,"n":0.1,"o":0.1},
{"t":1999,"a":0.2,"b":0.2,"c":0.2,"d":0.55,"e":0.3,"f":0.2,"g":0.3,"h":0.3,"i":0.2,"j":0.2,"k":0.2,"l":0.2,"m":0.2,"n":0.2,"o":0.2},
{"t":2000,"a":0.3,"b":0.3,"c":0.3,"d":0.4,"e":0.4,"f":0.3,"g":0.3,"h":0.3,"i":0.3,"j":0.3,"k":0.3,"l":0.3,"m":0.3,"n":0.3,"o":0.3},
{"t":2001,"a":0.5,"b":0.5,"c":0.5,"d":0.6,"e":0.6,"f":0.6,"g":0.6,"h":0.8,"i":0.6,"j":0.5,"k":0.5,"l":0.5,"m":0.5,"n":0.4,"o":0.5},
{"t":2002,"a":0.6,"b":0.7,"c":0.7,"d":0.8,"e":0.9,"f":0.8,"g":0.9,"h":0.9,"i":1.19,"j":0.8,"k":0.7,"l":0.7,"m":0.6,"n":0.6,"o":0.6},
{"t":2003,"a":1.3,"b":1.5,"c":1.6,"d":2.09,"e":1.8,"f":1.7,"g":1.8,"h":1.82,"i":1.7,"j":1.6,"k":1.4,"l":1.5,"m":1.3,"n":1.2,"o":1.3},
{"t":2004,"a":1.0,"b":1.1,"c":1.2,"d":1.58,"e":1.3,"f":1.2,"g":1.3,"h":1.3,"i":1.2,"j":1.1,"k":1.0,"l":1.1,"m":0.9,"n":0.9,"o":1.0},
{"t":2005,"a":0.8,"b":0.8,"c":0.8,"d":1.0,"e":1.0,"f":0.9,"g":0.9,"h":0.9,"i":0.9,"j":0.8,"k":0.7,"l":0.8,"m":0.7,"n":0.7,"o":0.7},
{"t":2006,"a":0.8,"b":0.9,"c":0.9,"d":1.0,"e":1.1,"f":1.0,"g":1.1,"h":1.2,"i":1.35,"j":1.0,"k":0.9,"l":0.9,"m":0.8,"n":0.8,"o":0.8},
{"t":2007,"a":0.7,"b":0.7,"c":0.7,"d":0.8,"e":0.8,"f":0.7,"g":0.7,"h":0.8,"i":0.8,"j":0.7,"k":0.6,"l":0.7,"m":0.6,"n":0.6,"o":0.6},
{"t":2008,"a":0.7,"b":0.8,"c":0.8,"d":1.3,"e":1.0,"f":0.9,"g":1.0,"h":1.0,"i":1.0,"j":0.9,"k":0.8,"l":0.8,"m":0.7,"n":0.7,"o":0.7},
{"t":2009,"a":0.8,"b":0.8,"c":0.8,"d":0.9,"e":0.9,"f":0.8,"g":0.8,"h":0.9,"i":0.9,"j":0.8,"k":0.7,"l":0.8,"m":0.7,"n":0.7,"o":0.8},
{"t":2010,"a":1.2,"b":1.67,"c":1.3,"d":1.3,"e":1.2,"f":1.3,"g":1.4,"h":1.2,"i":1.2,"j":1.1,"k":1.0,"l":1.1,"m":1.2,"n":1.1,"o":1.3},
{"t":2011,"a":0.8,"b":1.27,"c":0.9,"d":0.9,"e":0.9,"f":0.8,"g":0.8,"h":0.8,"i":0.8,"j":0.8,"k":0.7,"l":0.8,"m":0.7,"n":0.7,"o":0.8},
{"t":2012,"a":0.9,"b":0.9,"c":0.9,"d":1.0,"e":1.0,"f":0.9,"g":1.0,"h":1.0,"i":1.0,"j":0.9,"k":0.8,"l":0.9,"m":0.8,"n":0.8,"o":0.9},
{"t":2013,"a":0.6,"b":0.6,"c":0.6,"d":0.7,"e":0.6,"f":0.6,"g":0.5,"h":0.6,"i":0.6,"j":0.6,"k":0.5,"l":0.6,"m":0.6,"n":0.5,"o":0.6},
{"t":2014,"a":1.5,"b":1.6,"c":1.6,"d":2.41,"e":1.9,"f":1.8,"g":2.3,"h":1.9,"i":1.8,"j":1.7,"k":1.6,"l":1.6,"m":1.5,"n":1.4,"o":1.5},
{"t":2015,"a":0.5,"b":0.6,"c":0.6,"d":0.7,"e":0.7,"f":0.6,"g":0.6,"h":0.6,"i":0.6,"j":0.6,"k":1.45,"l":0.6,"m":0.6,"n":0.7,"o":-0.2},
{"t":2016,"a":1.3,"b":1.3,"c":1.4,"d":1.4,"e":1.4,"f":1.3,"g":1.3,"h":1.3,"i":1.3,"j":1.3,"k":0.57,"l":1.3,"m":1.2,"n":1.2,"o":1.2}
]},
"layer":[
{"data":{"values":[{"g":1825},{"g":1875},{"g":1925},{"g":1975},{"g":2025}]},"mark":{"type":"rule","color":"#FFFFFF","strokeWidth":0.55},
 "encoding":{"x":{"field":"g","type":"quantitative","scale":{"domain":[1820.1,2025.1],"nice":false,"zero":false},"axis":{"title":"Ár","values":[1850,1900,1950,2000],"format":"d"}}}},
{"data":{"values":[{"g":-3},{"g":-1},{"g":1}]},"mark":{"type":"rule","color":"#FFFFFF","strokeWidth":0.55},
 "encoding":{"y":{"field":"g","type":"quantitative","scale":{"domain":[-3.628,2.69],"nice":false,"zero":false},"axis":{"title":"Hitafrávik (°C)","values":[-2,0,2]}}}},
{"data":{"values":[{"g":1850},{"g":1900},{"g":1950},{"g":2000}]},"mark":{"type":"rule","color":"#FFFFFF","strokeWidth":1.1},
 "encoding":{"x":{"field":"g","type":"quantitative","scale":{"domain":[1820.1,2025.1],"nice":false,"zero":false},"axis":{"title":"Ár","values":[1850,1900,1950,2000],"format":"d"}}}},
{"data":{"values":[{"g":-2},{"g":0},{"g":2}]},"mark":{"type":"rule","color":"#FFFFFF","strokeWidth":1.1},
 "encoding":{"y":{"field":"g","type":"quantitative","scale":{"domain":[-3.628,2.69],"nice":false,"zero":false},"axis":{"title":"Hitafrávik (°C)","values":[-2,0,2]}}}},
{"data":{"name":"names"},"mark":{"type":"square","size":0,"opacity":1,"filled":true},
 "encoding":{"fill":{"field":"k","type":"nominal",
   "scale":{"domain":["a","b","c","d","e","f","g","h","i","j","k","l","m","n","o"],"range":["#F2F2F2","#F2F2F2","#F2F2F2","#F2F2F2","#F2F2F2","#F2F2F2","#F2F2F2","#F2F2F2","#F2F2F2","#F2F2F2","#F2F2F2","#F2F2F2","#F2F2F2","#F2F2F2","#F2F2F2"]},
   "legend":{"title":"Stöð","orient":"none","legendX":576.5,"legendY":145.5,"zindex":0,"symbolType":"square","symbolSize":576,"symbolStrokeWidth":0,"symbolOpacity":1,"rowPadding":2.27,"titleFontSize":15,"titleFontWeight":"normal","titleColor":"#000000","titlePadding":8,"labelFontSize":13.5,"labelExpr":"''","labelOffset":8}}}},
{"data":{"name":"temp"},
 "transform":[{"fold":["a","b","c","d","e","f","g","h","i","j","k","l","m","n","o"],"as":["k","v"]},
  {"lookup":"k","from":{"data":{"name":"names"},"key":"k","fields":["Stöð"]}}],
 "mark":{"type":"line","interpolate":"step-after","strokeWidth":1.4,"opacity":1},
 "encoding":{
  "x":{"field":"t","type":"quantitative","scale":{"domain":[1820.1,2025.1],"nice":false,"zero":false},"axis":{"title":"Ár","values":[1850,1900,1950,2000],"format":"d"}},
  "y":{"field":"v","type":"quantitative","scale":{"domain":[-3.628,2.69],"nice":false,"zero":false},"axis":{"title":"Hitafrávik (°C)","values":[-2,0,2]}},
  "stroke":{"field":"Stöð","type":"nominal",
   "scale":{"domain":["Reykjavík","Stykkishólmur","Bolungarvík","Hlaðhamar","Grímsey","Akureyri","Grímsstaðir","Raufarhöfn","Dratthalastaðir","Seyðisfjörður","Dalatangi","Teigarhorn","Fagurhólsmýri","Stórhöfði","Hæll"],
    "range":["#F8766D","#E58700","#C99800","#A3A500","#6BB100","#00BA38","#00BF7D","#00C0AF","#00BCD8","#00B0F6","#619CFF","#B983FF","#E76BF3","#FD61D1","#FF67A4"]},
   "legend":{"title":null,"orient":"none","legendX":579.5,"legendY":172.5,"zindex":1,"symbolType":"stroke","symbolSize":324,"symbolStrokeWidth":1.5,"rowPadding":9.3,"labelFontSize":13.5,"labelColor":"#000000","labelOffset":8}}}},
{"data":{"name":"fit"},"mark":{"type":"area","color":"#999999","opacity":0.4,"interpolate":"monotone"},
 "encoding":{"x":{"field":"t","type":"quantitative","scale":{"domain":[1820.1,2025.1],"nice":false,"zero":false},"axis":{"title":"Ár","values":[1850,1900,1950,2000],"format":"d"}},
  "y":{"field":"lo","type":"quantitative","scale":{"domain":[-3.628,2.69],"nice":false,"zero":false},"axis":{"title":"Hitafrávik (°C)","values":[-2,0,2]}},"y2":{"field":"hi"}}},
{"data":{"name":"fit"},"mark":{"type":"line","color":"#3366FF","strokeWidth":2.8,"interpolate":"monotone"},
 "encoding":{"x":{"field":"t","type":"quantitative","scale":{"domain":[1820.1,2025.1],"nice":false,"zero":false},"axis":{"title":"Ár","values":[1850,1900,1950,2000],"format":"d"}},
  "y":{"field":"f","type":"quantitative","scale":{"domain":[-3.628,2.69],"nice":false,"zero":false},"axis":{"title":"Hitafrávik (°C)","values":[-2,0,2]}}}}
]}
